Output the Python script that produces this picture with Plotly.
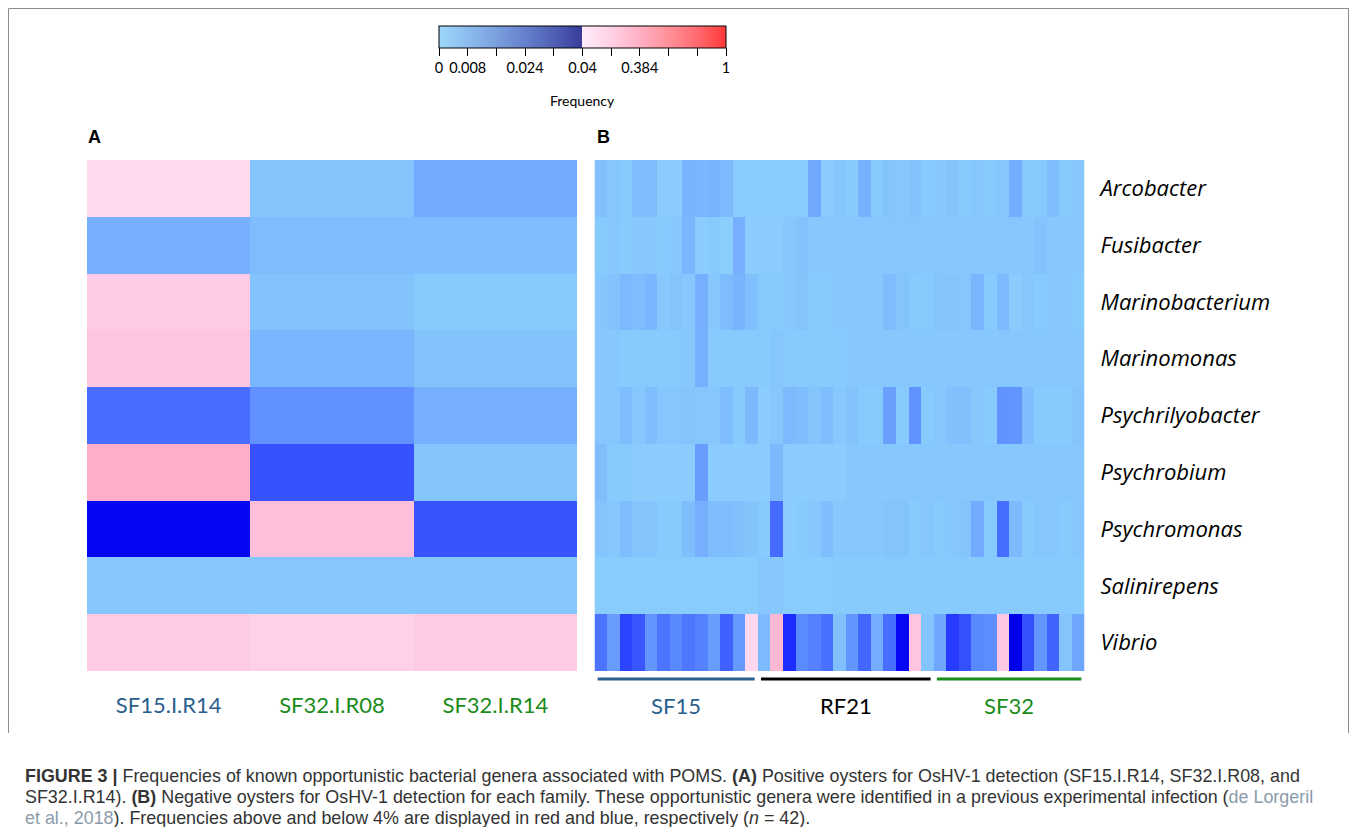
import numpy as np
import plotly.graph_objects as go

# page body adds an 8 px margin; the figure is sized so it fills the window exactly
OX, OY = 8, 8
W, H = 1357 - OX, 827 - OY

genera = ["Arcobacter", "Fusibacter", "Marinobacterium", "Marinomonas",
          "Psychrilyobacter", "Psychrobium", "Psychromonas", "Salinirepens", "Vibrio"]

# Panel A: OsHV-1 positive oysters (frequency per genus)
samples_A = ["SF15.I.R14", "SF32.I.R08", "SF32.I.R14"]
sample_colors_A = ["#2B5F8E", "#1A8C1A", "#1A8C1A"]
SF15_I_R14 = [0.11, 0.0060, 0.19, 0.21, 0.0192, 0.35, 0.0384, 0.0012, 0.19]
SF32_I_R08 = [0.0020, 0.0036, 0.0024, 0.0048, 0.0120, 0.0240, 0.25, 0.0012, 0.16]
SF32_I_R14 = [0.0068, 0.0036, 0.0008, 0.0024, 0.0060, 0.0020, 0.0236, 0.0012, 0.19]

# Panel B: OsHV-1 negative oysters (39 oysters: SF15 x13, RF21 x14, SF32 x12)
families = ["SF15", "RF21", "SF32"]
family_sizes = [13, 14, 12]
family_colors = ["#2B5F8E", "#000000", "#1A8C1A"]

arcobacter = [0.0028, 0.0016, 0.0008, 0.0032, 0.0032, 0.0004, 0.0004, 0.0052, 0.0048, 0.0052,
              0.0040, 0.0006, 0.0006, 0.0006, 0.0006, 0.0006, 0.0006, 0.0072, 0.0004, 0.0016,
              0.0008, 0.0056, 0.0008, 0.0020, 0.0012, 0.0024, 0.0008, 0.0012, 0.0020, 0.0008,
              0.0012, 0.0008, 0.0016, 0.0064, 0.0008, 0.0008, 0.0032, 0.0008, 0.0012]
fusibacter = [0.0008, 0.0012, 0.0008, 0.0012, 0.0012, 0.0008, 0.0012, 0.0048, 0.0004, 0.0008,
              0.0000, 0.0060, 0.0004, 0.0004, 0.0004, 0.0012, 0.0024, 0.0012, 0.0012, 0.0012,
              0.0016, 0.0016, 0.0012, 0.0016, 0.0016, 0.0016, 0.0012, 0.0016, 0.0012, 0.0016,
              0.0016, 0.0016, 0.0012, 0.0016, 0.0012, 0.0024, 0.0012, 0.0012, 0.0012]
marinobacterium = [0.0016, 0.0024, 0.0040, 0.0036, 0.0048, 0.0012, 0.0020, 0.0012, 0.0060, 0.0012,
                   0.0036, 0.0052, 0.0028, 0.0008, 0.0008, 0.0012, 0.0020, 0.0008, 0.0008, 0.0012,
                   0.0016, 0.0012, 0.0012, 0.0036, 0.0020, 0.0008, 0.0008, 0.0020, 0.0020, 0.0016,
                   0.0048, 0.0008, 0.0040, 0.0004, 0.0016, 0.0008, 0.0016, 0.0012, 0.0008]
marinomonas = [0.0016, 0.0012, 0.0008, 0.0008, 0.0008, 0.0008, 0.0008, 0.0012, 0.0056, 0.0008,
               0.0008, 0.0008, 0.0008, 0.0008, 0.0016, 0.0008, 0.0008, 0.0008, 0.0008, 0.0008,
               0.0012, 0.0012, 0.0012, 0.0012, 0.0012, 0.0012, 0.0012, 0.0012, 0.0012, 0.0012,
               0.0012, 0.0012, 0.0016, 0.0012, 0.0012, 0.0012, 0.0012, 0.0012, 0.0012]
psychrilyobacter = [0.0016, 0.0016, 0.0036, 0.0012, 0.0032, 0.0016, 0.0016, 0.0020, 0.0016, 0.0012,
                    0.0036, 0.0008, 0.0040, 0.0004, 0.0012, 0.0040, 0.0032, 0.0020, 0.0032, 0.0012,
                    0.0024, 0.0008, 0.0008, 0.0092, 0.0008, 0.0116, 0.0008, 0.0016, 0.0028, 0.0028,
                    0.0012, 0.0008, 0.0116, 0.0112, 0.0032, 0.0008, 0.0008, 0.0008, 0.0020]
psychrobium = [0.0032, 0.0008, 0.0008, 0.0004, 0.0004, 0.0004, 0.0004, 0.0004, 0.0096, 0.0004,
               0.0004, 0.0004, 0.0004, 0.0004, 0.0040, 0.0004, 0.0004, 0.0004, 0.0004, 0.0004,
               0.0012, 0.0012, 0.0012, 0.0012, 0.0012, 0.0012, 0.0012, 0.0012, 0.0012, 0.0012,
               0.0012, 0.0012, 0.0012, 0.0012, 0.0012, 0.0012, 0.0012, 0.0012, 0.0012]
psychromonas = [0.0020, 0.0012, 0.0032, 0.0020, 0.0020, 0.0008, 0.0008, 0.0032, 0.0060, 0.0032,
                0.0032, 0.0028, 0.0020, 0.0008, 0.0196, 0.0004, 0.0008, 0.0012, 0.0032, 0.0012,
                0.0012, 0.0012, 0.0012, 0.0020, 0.0020, 0.0008, 0.0016, 0.0008, 0.0012, 0.0020,
                0.0068, 0.0008, 0.0188, 0.0040, 0.0008, 0.0016, 0.0012, 0.0008, 0.0016]
salinirepens = [0.0006, 0.0006, 0.0006, 0.0006, 0.0006, 0.0006, 0.0006, 0.0006, 0.0006, 0.0006,
                0.0006, 0.0006, 0.0006, 0.0012, 0.0012, 0.0006, 0.0006, 0.0006, 0.0006, 0.0008,
                0.0008, 0.0008, 0.0008, 0.0008, 0.0008, 0.0008, 0.0008, 0.0008, 0.0008, 0.0008,
                0.0008, 0.0008, 0.0008, 0.0008, 0.0008, 0.0008, 0.0008, 0.0008, 0.0008]
vibrio = [0.0176, 0.0096, 0.0268, 0.0232, 0.0112, 0.0176, 0.0136, 0.0172, 0.0152, 0.0096,
          0.0212, 0.0104, 0.12, 0.0040, 0.29, 0.0308, 0.0132, 0.0152, 0.0184, 0.0028,
          0.0112, 0.0204, 0.0064, 0.0188, 0.0380, 0.22, 0.0020, 0.0076, 0.0284, 0.0244,
          0.0136, 0.0128, 0.20, 0.0398, 0.0244, 0.0112, 0.0208, 0.0020, 0.0076]

# colour key: frequency breakpoints and their positions on the key
key_freq = [0, 0.04, 0.384, 1]
key_pos = [0, 0.5, 0.7, 1]
key_ticks = ["0", "0.008", "", "0.024", "", "0.04", "", "0.384", "", "", "1"]

cell_scale = [[0, "#8ACEFD"], [0.25, "#4468FF"], [0.45, "#0C10FF"], [0.5, "#0000E8"],
              [0.5, "#FFE8FA"], [0.6, "#FEC6E2"], [0.7, "#FFA8C0"], [0.8, "#FF8898"],
              [0.9, "#FF6068"], [1, "#FF3838"]]
bar_scale = [[0, "#9ED8FA"], [0.1, "#8CBCEE"], [0.2, "#7AA0DE"], [0.3, "#6680CC"],
             [0.4, "#5060B4"], [0.5, "#383A9A"], [0.5, "#FFECFA"], [0.6, "#FFD0E4"],
             [0.7, "#FFB0C4"], [0.8, "#FF9098"], [0.9, "#FF6A70"], [1, "#FF3838"]]

def to_key(v):
    return np.interp(np.asarray(v, dtype=float), key_freq, key_pos)

zA = np.column_stack([SF15_I_R14, SF32_I_R08, SF32_I_R14])
zB = np.array([arcobacter, fusibacter, marinobacterium, marinomonas, psychrilyobacter,
               psychrobium, psychromonas, salinirepens, vibrio])

def px(x):
    return (x - OX) / W

def py(y):
    return 1 - (y - OY) / H

fig = go.Figure()
fig.add_trace(go.Heatmap(z=to_key(zA), x=list(range(3)), y=list(range(9)),
                         customdata=zA, coloraxis="coloraxis", xaxis="x", yaxis="y",
                         hovertemplate="%{customdata}<extra></extra>"))
fig.add_trace(go.Heatmap(z=to_key(zB), x=list(range(zB.shape[1])), y=list(range(9)),
                         customdata=zB, coloraxis="coloraxis", xaxis="x2", yaxis="y2",
                         hovertemplate="%{customdata}<extra></extra>"))
# carrier of the colour key
fig.add_trace(go.Scatter(x=[None], y=[None], mode="markers", xaxis="x", yaxis="y",
                         marker=dict(color=[0], coloraxis="coloraxis2"),
                         showlegend=False, hoverinfo="skip"))

top, bottom = 160, 671
ticktextA = [f'<span style="color:{c}">{s}</span>' for s, c in zip(samples_A, sample_colors_A)]

fig.update_layout(
    width=W, height=H, autosize=False,
    margin=dict(l=0, r=0, t=0, b=0),
    paper_bgcolor="white", plot_bgcolor="white",
    showlegend=False,
    coloraxis=dict(colorscale=cell_scale, cmin=0, cmax=1, showscale=False),
    coloraxis2=dict(colorscale=bar_scale, cmin=0, cmax=1, showscale=True,
                    colorbar=dict(orientation="h", x=px(582.5), xanchor="center",
                                  y=py(26), yanchor="top", thickness=22,
                                  len=287, lenmode="pixels", xpad=0, ypad=0,
                                  outlinewidth=1, outlinecolor="#000000",
                                  ticks="outside", ticklen=8, tickcolor="#000000",
                                  tickvals=list(np.linspace(0, 1, 11)), ticktext=key_ticks,
                                  tickfont=dict(family="Lato", size=14.5, color="#000000"))),
    xaxis=dict(domain=[px(87), px(577)], range=[-0.5, 2.5], tickvals=[0, 1, 2],
               ticktext=ticktextA, showgrid=False, zeroline=False, showline=False,
               ticks="", ticklabelstandoff=19, tickfont=dict(family="Lato", size=22)),
    yaxis=dict(domain=[py(bottom), py(top)], range=[8.5, -0.5], showticklabels=False,
               showgrid=False, zeroline=False, showline=False, ticks=""),
    xaxis2=dict(domain=[px(594.5), px(1084.5)], range=[-0.5, zB.shape[1] - 0.5],
                showticklabels=False, showgrid=False, zeroline=False, showline=False,
                ticks="", anchor="y2"),
    yaxis2=dict(domain=[py(bottom), py(top)], range=[8.5, -0.5], anchor="x2", side="right",
                tickvals=list(range(9)), ticktext=[f"<i>{g}</i>" for g in genera],
                tickfont=dict(family="Open Sans", size=22, color="#000000"),
                ticklabelstandoff=15, showgrid=False, zeroline=False, showline=False, ticks=""),
)

annotations = []
shapes = []
# colour key title
annotations.append(dict(text="Frequency", x=px(582.5), y=py(100), xref="paper", yref="paper",
                        xanchor="center", yanchor="middle", showarrow=False,
                        font=dict(family="Lato", size=14, color="#000000")))
# panel letters
annotations.append(dict(text="<b>A</b>", x=px(86), y=py(137), xref="paper", yref="paper",
                        xanchor="left", yanchor="middle", showarrow=False,
                        font=dict(family="Liberation Sans", size=18, color="#000000")))
annotations.append(dict(text="<b>B</b>", x=px(595), y=py(137), xref="paper", yref="paper",
                        xanchor="left", yanchor="middle", showarrow=False,
                        font=dict(family="Liberation Sans", size=18, color="#000000")))
# family groups in panel B
start = 0
for fam, n, col in zip(families, family_sizes, family_colors):
    x0, x1 = start - 0.5, start + n - 0.5
    shapes.append(dict(type="line", xref="x2", yref="paper", x0=x0 + 0.25, x1=x1 - 0.25,
                       y0=py(679), y1=py(679), line=dict(color=col, width=3)))
    annotations.append(dict(text=fam, x=(x0 + x1) / 2, y=py(705), xref="x2", yref="paper",
                            xanchor="center", yanchor="middle", showarrow=False,
                            font=dict(family="Lato", size=22, color=col)))
    start += n

# figure frame
frame_col = "#8C8C8C"
shapes.append(dict(type="path", xref="paper", yref="paper",
                   path=f"M {px(8.5)} {py(733)} L {px(8.5)} {py(8.5)} L {px(1348.5)} {py(8.5)} L {px(1348.5)} {py(733)}",
                   line=dict(color=frame_col, width=1)))

# caption
cap_font = dict(family="Liberation Sans", size=17.9, color="#333333")
link = "#8B9BAA"
caption_lines = [
    "<b>FIGURE 3 |</b> Frequencies of known opportunistic bacterial genera associated with POMS. "
    "<b>(A)</b> Positive oysters for OsHV-1 detection (SF15.I.R14, SF32.I.R08, and",
    "SF32.I.R14). <b>(B)</b> Negative oysters for OsHV-1 detection for each family. These opportunistic "
    f"genera were identified in a previous experimental infection (<span style='color:{link}'>de Lorgeril</span>",
    f"<span style='color:{link}'>et al., 2018</span>). Frequencies above and below 4% are displayed in red "
    "and blue, respectively (<i>n</i> = 42).",
]
for i, line in enumerate(caption_lines):
    annotations.append(dict(text=line, x=px(23), y=py(775.5 + 21.3 * i), xref="paper", yref="paper",
                            xanchor="left", yanchor="middle", showarrow=False, font=cap_font))

fig.update_layout(annotations=annotations, shapes=shapes)
fig.write_html("out.html")
